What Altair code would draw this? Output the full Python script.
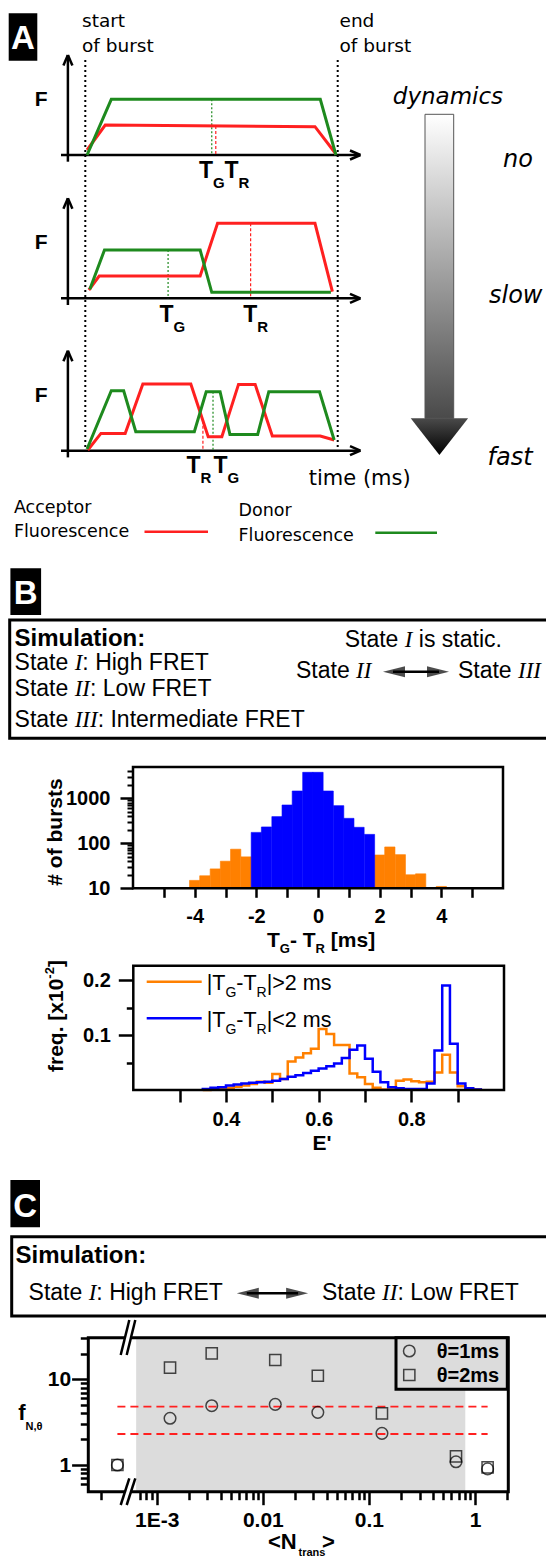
import altair as alt
import numpy as np
import pandas as pd

W, H = 546, 1556
SANS = "Liberation Sans"
VERD = "DejaVu Sans"
SERIF = "Liberation Serif"
RED = "#ff2020"
GREEN = "#1e8a1e"
ORANGE = "#ff8000"
BLUE = "#0000ff"
SHADE = "#dcdcdc"

# ---------------- A: schematic single-burst traces ----------------
# time in ms (burst runs from 0 to 10), F in arbitrary units
a1_donor_t = [0.07, 1.03, 9.31, 9.93]
a1_donor_f = [0.0, 5.57, 5.57, 0.0]
a1_acc_t = [0.07, 0.79, 9.10, 9.93]
a1_acc_f = [0.5, 3.0, 2.83, 0.1]

a2_donor_t = [0.18, 0.76, 4.55, 5.01, 9.73]
a2_donor_f = [0.9, 4.83, 4.83, 0.6, 0.6]
a2_acc_t = [0.14, 0.55, 4.55, 5.24, 9.10, 9.79]
a2_acc_f = [0.83, 2.23, 2.23, 7.5, 7.5, 0.67]

a3_donor_t = [0.07, 1.03, 1.52, 2.00, 4.32, 4.79, 5.34, 5.73, 6.83, 7.27, 9.28, 9.86]
a3_donor_f = [0.17, 6.0, 6.0, 1.9, 1.9, 5.9, 5.9, 1.63, 1.63, 5.9, 5.9, 1.07]
a3_acc_t = [0.10, 0.62, 1.58, 2.28, 4.18, 4.87, 5.41, 6.07, 6.73, 7.41, 9.31, 9.86]
a3_acc_f = [0.07, 1.73, 1.73, 6.67, 6.67, 1.40, 1.40, 6.63, 6.63, 1.47, 1.47, 1.07]

# mean arrival times of donor (T_G) and acceptor (T_R) photons per burst
t_green = [5.01, 3.28, 5.06]
t_red = [5.17, 6.55, 4.66]

# ---------------- B: T_G - T_R histogram ----------------
dt_bin_center = [-4.0, -3.67, -3.33, -3.0, -2.67, -2.33, -2.0, -1.67, -1.33, -1.0,
                 -0.67, -0.33, 0.0, 0.33, 0.67, 1.0, 1.33, 1.67, 2.0, 2.33, 2.67,
                 3.0, 3.33, 4.0]
dt_bursts = [15, 19, 27, 40, 74, 50, 175, 231, 392, 711, 1455, 3785, 3785, 1455,
             687, 359, 227, 158, 55, 83, 56, 20, 21, 11]
dt_class = [">2"] * 6 + ["<2"] * 12 + [">2"] * 6
dt_bin_width = 1 / 3

# ---------------- B: E' histograms, bins of 1/60 starting at 0.35 ----------------
e_bin_lo = [round(0.35 + k / 60, 5) for k in range(36)]
e_bin_width = 1 / 60
e_slow = [0.000, 0.001, 0.002, 0.004, 0.006, 0.008, 0.011, 0.015, 0.013, 0.029,
          0.020, 0.052, 0.059, 0.067, 0.075, 0.111, 0.102, 0.082, 0.082, 0.030,
          0.023, 0.011, 0.004, 0.001, 0.002, 0.017, 0.019, 0.016, 0.014, 0.015,
          0.032, 0.064, 0.032, 0.007, 0.003, 0.001]
e_fast = [0.002, 0.004, 0.005, 0.008, 0.010, 0.012, 0.013, 0.014, 0.015, 0.017,
          0.020, 0.024, 0.027, 0.031, 0.035, 0.039, 0.043, 0.048, 0.058, 0.073,
          0.081, 0.057, 0.033, 0.014, 0.005, 0.003, 0.002, 0.002, 0.002, 0.012,
          0.072, 0.190, 0.084, 0.012, 0.003, 0.001]

# ---------------- C: f_N,theta versus <N_trans> ----------------
n_trans = [4.26e-4, 1.335e-3, 3.3e-3, 0.0131, 0.033, 0.1327, 0.662, 1.315]
f_theta1 = [1.0, 3.51, 4.92, 5.10, 4.12, 2.34, 1.09, 0.90]
f_theta2 = [1.0, 13.7, 20.1, 16.8, 11.0, 4.01, 1.26, 0.94]
f_limits = [4.79, 2.30]
dyn_window = [6.4e-4, 0.81]

# ---------------- glyph advances (per 1000 em) for chaining text runs ----------------
_AR = dict(zip(" !#'()-.:<=>[]|", [278, 278, 556, 191, 333, 333, 333, 278, 278, 584, 584, 584, 278, 278, 260]))
_AR.update({c: 556 for c in "0123456789"})
_AR.update(dict(zip("ABCDEFGHILMNRST", [667, 667, 722, 722, 667, 611, 778, 722, 278, 556, 833, 722, 722, 667, 611])))
_AR.update(dict(zip("abcdefghilmnoqrstuwxy", [556, 556, 500, 556, 556, 278, 556, 556, 222, 222, 833, 556, 556, 556, 333, 500, 278, 556, 722, 500, 500])))
_AB = dict(zip(" #'()-.:<=>[]", [278, 556, 238, 333, 333, 333, 278, 333, 584, 584, 584, 333, 333]))
_AB.update({c: 556 for c in "0123456789"})
_AB.update(dict(zip("ABCEFGINRST", [722, 722, 722, 667, 611, 778, 278, 722, 722, 667, 611])))
_AB.update(dict(zip("abcefilmnoqrstux", [556, 611, 556, 556, 333, 278, 278, 889, 611, 611, 611, 389, 556, 333, 611, 556])))
_TI = {"I": 333, " ": 250}
KIND = {"r": (SANS, "normal", "normal", _AR),
        "b": (SANS, "bold", "normal", _AB),
        "i": (SERIF, "normal", "italic", _TI)}


def adv(s, size, table):
    return sum(table.get(c, 556) for c in s) * size / 1000.0


def one():
    return alt.Data(values=[{}])


def txt(s, x, y, size, font=SANS, weight="normal", style="normal", color="black",
        align="left", angle=0):
    return alt.Chart(one()).mark_text(
        text=s, font=font, fontSize=size, fontWeight=weight, fontStyle=style,
        color=color, align=align, baseline="alphabetic", angle=angle,
    ).encode(x=alt.value(x), y=alt.value(y))


def run(parts, x, y, color="black"):
    """Chain text pieces of different fonts on one baseline."""
    out = []
    for s, k, size, dy in parts:
        font, weight, style, table = KIND[k]
        lead = len(s) - len(s.lstrip(" "))
        x += adv(" " * lead, size, table)
        body = s.strip(" ")
        if body:
            out.append(txt(body, x, y + dy, size, font, weight, style, color))
        x += adv(s[lead:], size, table)
    return out


def seg(x1, y1, x2, y2, color="black", width=2.0, dash=None):
    props = dict(color=color, strokeWidth=width)
    if dash:
        props["strokeDash"] = dash
    return alt.Chart(one()).mark_rule(**props).encode(
        x=alt.value(x1), y=alt.value(y1), x2=alt.value(x2), y2=alt.value(y2))


def rect_px(x1, y1, x2, y2, **props):
    return alt.Chart(one()).mark_rect(**props).encode(
        x=alt.value(x1), y=alt.value(y1), x2=alt.value(x2), y2=alt.value(y2))


def sym(x, y, shape, size, **props):
    return alt.Chart(one()).mark_point(shape=shape, size=size, **props).encode(
        x=alt.value(x), y=alt.value(y))


def axis(orient, offset, values, tick, pad=4, labels=True, expr=None, size=20, tw=2.5):
    kw = dict(orient=orient, offset=offset, values=values, tickSize=tick, tickWidth=tw,
              tickColor="black", domain=False, grid=False, title=None, labels=labels,
              labelFont=SANS, labelFontWeight="bold", labelFontSize=size,
              labelColor="black", labelPadding=pad, labelOverlap=False, labelFlush=False)
    if expr:
        kw["labelExpr"] = expr
    return alt.Axis(**kw)


def frame(xdom, ydom, xs, ys, sw=2.5):
    d = pd.DataFrame({"x0": [xdom[0]], "x1": [xdom[1]], "y0": [ydom[0]], "y1": [ydom[1]]})
    return alt.Chart(d).mark_rect(fill="transparent", stroke="black", strokeWidth=sw).encode(
        x=alt.X("x0:Q", scale=xs, axis=None), x2="x1:Q",
        y=alt.Y("y0:Q", scale=ys, axis=None), y2="y1:Q")


L = []

# ---------------- panel letters ----------------
for letter, (x0, y0, x1, y1, base) in {"A": (8.7, 13.3, 37.3, 60.7, 48.5),
                                        "B": (10.4, 568.3, 41.1, 615.0, 603.5),
                                        "C": (10.4, 1180.0, 40.0, 1227.3, 1216.5)}.items():
    L.append(rect_px(x0, y0, x1, y1, color="black"))
    L.append(txt(letter, (x0 + x1) / 2, base, 33, SANS, "bold", color="white", align="center"))

# ---------------- A ----------------
t_scale = alt.Scale(domain=[0, 10], range=[85.3, 337.7], nice=False, zero=False)
t_axis = alt.X("t:Q", scale=t_scale, axis=None)

# burst start / end markers
L.append(alt.Chart(pd.DataFrame({"t": [0, 10]})).mark_rule(
    color="black", strokeWidth=2, strokeDash=[2, 3]).encode(
    x=t_axis, y=alt.value(60), y2=alt.value(452)))
L += [txt("start", 82, 26.7, 18.5, VERD), txt("of burst", 82, 52.3, 18.5, VERD),
      txt("end", 339.5, 26.7, 18.5, VERD), txt("of burst", 339.5, 52.3, 18.5, VERD)]

rows = [
    (155.0, (a1_donor_t, a1_donor_f), (a1_acc_t, a1_acc_f)),
    (298.3, (a2_donor_t, a2_donor_f), (a2_acc_t, a2_acc_f)),
    (450.7, (a3_donor_t, a3_donor_f), (a3_acc_t, a3_acc_f)),
]
for r, (base, donor, acc) in enumerate(rows):
    fs = alt.Scale(domain=[0, 10], range=[base, base - 100], nice=False, zero=False)
    # axes with arrow heads
    L += [seg(61, base, 360.4, base, width=2.5),
          seg(350, base - 4.5, 360.4, base, width=2.5),
          seg(350, base + 4.5, 360.4, base, width=2.5),
          seg(67.9, base + 6.7, 67.9, base - 100, width=2.5),
          seg(63.4, base - 89.5, 67.9, base - 100, width=2.5),
          seg(72.4, base - 89.5, 67.9, base - 100, width=2.5)]
    L.append(txt("F", 34.8, base - 49, 21, SANS, "bold"))
    # mean arrival time markers
    tg, tr = t_green[r], t_red[r]
    for tm, (tt, ff), col, dash in ((tg, donor, GREEN, [2, 2]), (tr, acc, RED, [3, 2])):
        d = pd.DataFrame({"t": [tm], "F": [float(np.interp(tm, tt, ff))], "F0": [0.0]})
        L.append(alt.Chart(d).mark_rule(color=col, strokeWidth=1.2, strokeDash=dash).encode(
            x=t_axis, y=alt.Y("F:Q", scale=fs, axis=None), y2="F0:Q"))
    # fluorescence traces
    for (tt, ff), col in ((acc, RED), (donor, GREEN)):
        d = pd.DataFrame({"t": tt, "F": ff, "i": range(len(tt))})
        L.append(alt.Chart(d).mark_line(color=col, strokeWidth=3).encode(
            x=t_axis, y=alt.Y("F:Q", scale=fs, axis=None), order="i:Q"))


# T_G / T_R labels
def tlabel(x, y, sub):
    return run([("T", "b", 23, 0), (sub, "b", 15, 10)], x, y)


L += tlabel(199.0, 178.3, "G") + tlabel(224.5, 178.3, "R")
L += tlabel(159.5, 321.7, "G") + tlabel(243.2, 321.7, "R")
L += tlabel(186.5, 473.3, "R") + tlabel(213.5, 473.3, "G")
L.append(txt("time (ms)", 308.8, 485, 21, VERD))

# dynamics gradient arrow
L.append(rect_px(425.0, 114.3, 453.7, 418.3,
                 color=alt.LinearGradient(gradient="linear",
                                          stops=[alt.GradientStop(color="#ffffff", offset=0),
                                                 alt.GradientStop(color="#4a4a4a", offset=1)],
                                          x1=0, x2=0, y1=0, y2=1),
                 stroke="#555555", strokeWidth=1))
L.append(sym(439.4, 436.7, "M-1,-0.64L1,-0.64L0,0.64Z", 57.4 ** 2, filled=True,
             fill=alt.LinearGradient(gradient="linear",
                                     stops=[alt.GradientStop(color="#4a4a4a", offset=0),
                                            alt.GradientStop(color="#000000", offset=1)],
                                     x1=0, x2=0, y1=0, y2=1),
             strokeWidth=0, opacity=1))
L += [txt("dynamics", 392.8, 104, 23, VERD, style="italic"),
      txt("no", 503, 166.7, 24, VERD, style="italic"),
      txt("slow", 489, 303.3, 24, VERD, style="italic"),
      txt("fast", 487.5, 465, 24, VERD, style="italic")]

# legend of panel A
L += [txt("Acceptor", 13.9, 512.7, 17.5, VERD), txt("Fluorescence", 13.9, 537.3, 17.5, VERD),
      seg(144.5, 531.7, 208, 531.7, RED, 2.5),
      txt("Donor", 238.5, 515.5, 17.5, VERD), txt("Fluorescence", 238.5, 540.5, 17.5, VERD),
      seg(375.3, 532.7, 437, 532.7, GREEN, 2.5)]

# ---------------- B: simulation box ----------------
L.append(rect_px(9.7, 620, 600, 738.3, fill="white", stroke="black", strokeWidth=3))
L.append(txt("Simulation:", 14.6, 646, 24, SANS, "bold"))
L += run([("State ", "r", 23, 0), ("I", "i", 23, 0), (": High FRET", "r", 23, 0)], 14.6, 670)
L += run([("State ", "r", 23, 0), ("II", "i", 23, 0), (": Low FRET", "r", 23, 0)], 14.6, 696)
L += run([("State ", "r", 23, 0), ("III", "i", 23, 0), (": Intermediate FRET", "r", 23, 0)], 14.6, 726.7)
L += run([("State ", "r", 23, 0), ("I", "i", 23, 0), (" is static.", "r", 23, 0)], 344.7, 647.3)
L += run([("State ", "r", 23, 0), ("II", "i", 23, 0)], 296, 678.3)
L += run([("State ", "r", 23, 0), ("III", "i", 23, 0)], 457.9, 678.3)


def double_arrow(x1, x2, y):
    return [seg(x1 + 10, y, x2 - 10, y, width=2.5),
            sym(x1 + 11, y, "M-1,0L1,-0.5L1,0.5Z", 22 ** 2, filled=True, color="black"),
            sym(x2 - 11, y, "M1,0L-1,-0.5L-1,0.5Z", 22 ** 2, filled=True, color="black")]


L += double_arrow(383, 449, 671.7)

# ---------------- B: T_G - T_R histogram ----------------
h1x = alt.Scale(domain=[-6, 6], range=[133, 503], nice=False, zero=False)
h1y = alt.Scale(type="log", domain=[10, 4970], range=[888.3, 767], nice=False)
h1 = pd.DataFrame({"c": dt_bin_center, "n": dt_bursts, "cls": dt_class})
h1["lo"] = h1["c"] - dt_bin_width / 2
h1["hi"] = h1["c"] + dt_bin_width / 2
h1["base"] = 10.0

L.append(alt.Chart(h1[h1["cls"] == ">2"]).mark_rect(color=ORANGE, stroke=ORANGE, strokeWidth=0.6).encode(
    x=alt.X("lo:Q", scale=h1x,
            axis=axis("bottom", 888.3 - H, [-5, -4, -3, -2, -1, 0, 1, 2, 3, 4, 5], 9, pad=9,
                      expr="datum.value % 2 == 0 ? (datum.value < 0 ? '-' + abs(datum.value) : '' + datum.value) : ''")),
    x2="hi:Q",
    y=alt.Y("n:Q", scale=h1y, axis=axis("left", -133, [10, 100, 1000], 13, pad=10, expr="'' + datum.value")),
    y2="base:Q"))
L.append(alt.Chart(h1[h1["cls"] == "<2"]).mark_rect(color=BLUE, stroke=BLUE, strokeWidth=0.6).encode(
    x=alt.X("lo:Q", scale=h1x, axis=None), x2="hi:Q",
    y=alt.Y("n:Q", scale=h1y,
            axis=axis("left", -133, [20, 30, 40, 50, 60, 70, 80, 90, 200, 300, 400, 500, 600,
                                     700, 800, 900, 2000, 3000, 4000], 6, labels=False, tw=2)),
    y2="base:Q"))
L.append(frame([-6, 6], [10, 4970], h1x, h1y))
L.append(txt("# of bursts", 62, 832, 21, SANS, "bold", align="center", angle=270))
L += run([("T", "b", 21, 0), ("G", "b", 13, 6.6), ("- ", "b", 21, 0), ("T", "b", 21, 0),
          ("R", "b", 13, 6.6), (" [ms]", "b", 21, 0)], 267, 946.7)

# ---------------- B: E' histograms ----------------
h2x = alt.Scale(domain=[0.2, 1.0], range=[133.3, 504], nice=False, zero=False)
h2y = alt.Scale(domain=[0, 0.226], range=[1090, 965.7], nice=False, zero=False)


def outline(vals):
    xs = [e_bin_lo[0]] + e_bin_lo + [e_bin_lo[-1] + e_bin_width]
    ys = [0.0] + list(vals) + [0.0]
    return pd.DataFrame({"e": xs, "f": ys, "i": range(len(xs))})


L.append(alt.Chart(outline(e_slow)).mark_line(interpolate="step-after", color=ORANGE, strokeWidth=2.5).encode(
    x=alt.X("e:Q", scale=h2x,
            axis=axis("bottom", 1090 - H, [0.3, 0.4, 0.5, 0.6, 0.7, 0.8, 0.9], 12, pad=7,
                      expr="round(datum.value * 10) % 2 == 0 ? datum.label : ''")),
    y=alt.Y("f:Q", scale=h2y, axis=axis("left", -133.3, [0.1, 0.2], 15, pad=8)),
    order="i:Q"))
L.append(alt.Chart(outline(e_fast)).mark_line(interpolate="step-after", color=BLUE, strokeWidth=2.5).encode(
    x=alt.X("e:Q", scale=h2x, axis=None),
    y=alt.Y("f:Q", scale=h2y, axis=axis("left", -133.3, [0.05, 0.15], 7, labels=False)),
    order="i:Q"))
L.append(frame([0.2, 1.0], [0, 0.226], h2x, h2y))
L += [seg(146.7, 981.7, 201.7, 981.7, ORANGE, 2.5), seg(146.7, 1018.3, 201.7, 1018.3, BLUE, 2.5)]
L += run([("|T", "r", 21.5, 0), ("G", "r", 14, 7), ("-T", "r", 21.5, 0), ("R", "r", 14, 7),
          ("|>2 ms", "r", 21.5, 0)], 206.7, 990)
L += run([("|T", "r", 21.5, 0), ("G", "r", 14, 7), ("-T", "r", 21.5, 0), ("R", "r", 14, 7),
          ("|<2 ms", "r", 21.5, 0)], 206.7, 1026.7)
L.append(txt("E'", 322, 1150, 21, SANS, "bold", align="center"))
fq = "freq. [x10"
w_fq = adv(fq, 21, _AB)
L += [txt(fq, 63, 1072, 21, SANS, "bold", angle=270),
      txt("-2", 54, 1072 - w_fq, 13, SANS, "bold", angle=270),
      txt("]", 63, 1072 - w_fq - adv("-2", 13, _AB), 21, SANS, "bold", angle=270)]

# ---------------- C: simulation box ----------------
L.append(rect_px(11.7, 1236.7, 600, 1316, fill="white", stroke="black", strokeWidth=3))
L.append(txt("Simulation:", 15.5, 1263, 24, SANS, "bold"))
L += run([("State ", "r", 23, 0), ("I", "i", 23, 0), (": High FRET", "r", 23, 0)], 28.6, 1300)
L += run([("State ", "r", 23, 0), ("II", "i", 23, 0), (": Low FRET", "r", 23, 0)], 322, 1300)
L += double_arrow(236.8, 308.1, 1293.3)

# ---------------- C: f_N,theta plot ----------------
cx = alt.Scale(type="log", domain=[2.265e-4, 2.06], range=[88.3, 508.3], nice=False)
cy = alt.Scale(type="log", domain=[0.488, 30.6], range=[1491.7, 1337.7], nice=False)

shade = pd.DataFrame({"a": [dyn_window[0]], "b": [dyn_window[1]], "lo": [0.488], "hi": [30.6]})
L.append(alt.Chart(shade).mark_rect(color=SHADE).encode(
    x=alt.X("a:Q", scale=cx, axis=None), x2="b:Q",
    y=alt.Y("lo:Q", scale=cy, axis=None), y2="hi:Q"))
lim = pd.DataFrame({"f": f_limits, "x0": min(n_trans), "x1": max(n_trans)})
L.append(alt.Chart(lim).mark_rule(color=RED, strokeWidth=1.8, strokeDash=[8, 5]).encode(
    x=alt.X("x0:Q", scale=cx, axis=None), x2="x1:Q", y=alt.Y("f:Q", scale=cy, axis=None)))

pts = pd.DataFrame({"n": n_trans, "f1": f_theta1, "f2": f_theta2})
L.append(alt.Chart(pts).mark_point(shape="square", size=125, filled=False, color="black", strokeWidth=1.5).encode(
    x=alt.X("n:Q", scale=cx,
            axis=axis("bottom", 1491.7 - H,
                      [3e-4, 7e-4, 8e-4, 9e-4, 0.002, 0.003, 0.004, 0.005, 0.006, 0.007, 0.008,
                       0.009, 0.02, 0.03, 0.04, 0.05, 0.06, 0.07, 0.08, 0.09, 0.2, 0.3, 0.4,
                       0.5, 0.6, 0.7, 0.8, 0.9, 2], 8, labels=False)),
    y=alt.Y("f2:Q", scale=cy,
            axis=axis("left", -88.3, [0.6, 0.7, 0.8, 0.9, 2, 3, 4, 5, 6, 7, 8, 9, 20, 30], 8,
                      labels=False))))
L.append(alt.Chart(pts).mark_point(shape="circle", size=135, filled=False, color="black", strokeWidth=1.5).encode(
    x=alt.X("n:Q", scale=cx,
            axis=axis("bottom", 1491.7 - H, [0.001, 0.01, 0.1, 1], 13, pad=5, size=21,
                      expr="datum.value < 0.005 ? '1E-3' : '' + datum.value")),
    y=alt.Y("f1:Q", scale=cy,
            axis=axis("left", -88.3, [1, 10], 16.7, pad=1, size=21, expr="'' + datum.value"))))
L.append(frame([2.265e-4, 2.06], [0.488, 30.6], cx, cy, sw=3))

# legend
L.append(rect_px(396, 1337.7, 507.3, 1389.3, fill=SHADE, stroke="black", strokeWidth=3))
L.append(sym(409.3, 1351, "circle", 135, filled=False, color="black", strokeWidth=1.5))
L.append(sym(409.3, 1375, "square", 125, filled=False, color="black", strokeWidth=1.5))
L += [txt("\u03b8=1ms", 436.7, 1357.5, 20, SANS, "bold"),
      txt("\u03b8=2ms", 436.7, 1382, 20, SANS, "bold")]

# axis break
for (ya, yb) in ((1355, 1320), (1505, 1478.3)):
    L.append(seg(123.7, ya, 132.3, yb, "white", 5))
    L.append(seg(120.7, ya, 129.3, yb, "black", 2.5))
    L.append(seg(126.7, ya, 135.3, yb, "black", 2.5))

# axis titles
L += [txt("f", 18.3, 1420, 22, SANS, "bold"), txt("N,\u03b8", 25.5, 1430, 11, SANS, "bold")]
L += [txt("<N", 268, 1549, 22, SANS, "bold"), txt("trans", 298.5, 1555.5, 11, SANS, "bold"),
      txt(">", 322, 1549, 22, SANS, "bold")]

chart = alt.layer(*L).resolve_scale(x="independent", y="independent").properties(
    width=W, height=H, autosize=alt.AutoSizeParams(type="none"), padding=0,
    background="white",
).configure_view(strokeWidth=0)

chart.save("out.html", embed_options={"renderer": "svg", "actions": False})
